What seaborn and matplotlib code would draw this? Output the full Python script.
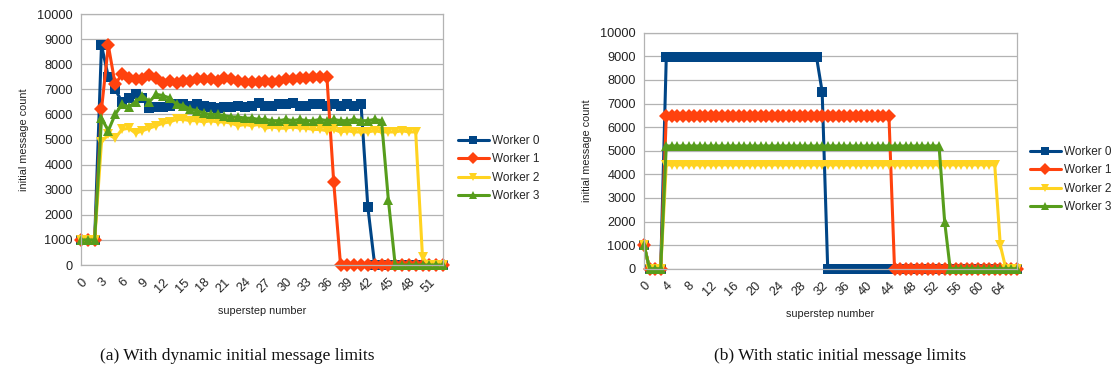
import numpy as np
import pandas as pd
import matplotlib
matplotlib.use("Agg")
import matplotlib.pyplot as plt
import seaborn as sns

# ---------------- data ----------------
workers = ["Worker 0", "Worker 1", "Worker 2", "Worker 3"]
colors = ["#004586", "#ff420e", "#ffd320", "#579d1c"]
marker_styles = ["s", "D", "v", "^"]

# (a) dynamic initial message limits, supersteps 0..53
dyn_steps = list(range(0, 54))
dyn_w0 = [1000, 1000, 1000, 8750, 7500, 7000, 6500, 6650, 6800, 6650,
          6250, 6300, 6300, 6350, 6400, 6400, 6350, 6400, 6350, 6300,
          6250, 6300, 6300, 6350, 6300, 6350, 6450, 6350, 6350, 6400,
          6400, 6450, 6350, 6350, 6400, 6400, 6350, 6400, 6350, 6400,
          6350, 6400, 2300, 0, 0, 0, 0, 0, 0, 0,
          0, 0, 0, 0]
dyn_w1 = [1000, 1000, 1000, 6200, 8750, 7200, 7600, 7450, 7400, 7400,
          7550, 7450, 7250, 7350, 7250, 7350, 7350, 7400, 7400, 7400,
          7350, 7450, 7400, 7350, 7300, 7300, 7300, 7350, 7300, 7350,
          7400, 7400, 7450, 7450, 7500, 7500, 7500, 3300, 0, 0,
          0, 0, 0, 0, 0, 0, 0, 0, 0, 0,
          0, 0, 0, 0]
dyn_w2 = [1000, 1000, 1000, 4900, 5200, 5050, 5400, 5450, 5250, 5350,
          5450, 5550, 5650, 5700, 5800, 5800, 5750, 5750, 5700, 5750,
          5700, 5700, 5650, 5550, 5600, 5550, 5600, 5450, 5500, 5450,
          5450, 5500, 5450, 5450, 5400, 5400, 5350, 5400, 5300, 5350,
          5300, 5300, 5300, 5350, 5300, 5300, 5300, 5350, 5300, 5300,
          300, 0, 0, 0]
dyn_w3 = [1000, 1000, 1000, 5850, 5350, 6000, 6400, 6300, 6500, 6750,
          6500, 6800, 6750, 6650, 6400, 6350, 6200, 6150, 6050, 6000,
          6000, 5950, 5900, 5900, 5850, 5850, 5800, 5800, 5750, 5750,
          5800, 5750, 5800, 5750, 5750, 5800, 5750, 5800, 5750, 5750,
          5800, 5750, 5750, 5800, 5750, 2600, 0, 0, 0, 0,
          0, 0, 0, 0]

# (b) static initial message limits, supersteps 0..67
sta_steps = list(range(0, 68))
sta_w0 = [1000, 0, 0, 0, 8950, 8950, 8950, 8950, 8950, 8950,
          8950, 8950, 8950, 8950, 8950, 8950, 8950, 8950, 8950, 8950,
          8950, 8950, 8950, 8950, 8950, 8950, 8950, 8950, 8950, 8950,
          8950, 8950, 7500, 0, 0, 0, 0, 0, 0, 0,
          0, 0, 0, 0, 0, 0, 0, 0, 0, 0,
          0, 0, 0, 0, 0, 0, 0, 0, 0, 0,
          0, 0, 0, 0, 0, 0, 0, 0]
sta_w1 = [1000, 0, 0, 0, 6450, 6450, 6450, 6450, 6450, 6450,
          6450, 6450, 6450, 6450, 6450, 6450, 6450, 6450, 6450, 6450,
          6450, 6450, 6450, 6450, 6450, 6450, 6450, 6450, 6450, 6450,
          6450, 6450, 6450, 6450, 6450, 6450, 6450, 6450, 6450, 6450,
          6450, 6450, 6450, 6450, 6450, 0, 0, 0, 0, 0,
          0, 0, 0, 0, 0, 0, 0, 0, 0, 0,
          0, 0, 0, 0, 0, 0, 0, 0]
sta_w2 = [1000, 0, 0, 0, 4400, 4400, 4400, 4400, 4400, 4400,
          4400, 4400, 4400, 4400, 4400, 4400, 4400, 4400, 4400, 4400,
          4400, 4400, 4400, 4400, 4400, 4400, 4400, 4400, 4400, 4400,
          4400, 4400, 4400, 4400, 4400, 4400, 4400, 4400, 4400, 4400,
          4400, 4400, 4400, 4400, 4400, 4400, 4400, 4400, 4400, 4400,
          4400, 4400, 4400, 4400, 4400, 4400, 4400, 4400, 4400, 4400,
          4400, 4400, 4400, 4400, 1000, 0, 0, 0]
sta_w3 = [1000, 0, 0, 0, 5200, 5200, 5200, 5200, 5200, 5200,
          5200, 5200, 5200, 5200, 5200, 5200, 5200, 5200, 5200, 5200,
          5200, 5200, 5200, 5200, 5200, 5200, 5200, 5200, 5200, 5200,
          5200, 5200, 5200, 5200, 5200, 5200, 5200, 5200, 5200, 5200,
          5200, 5200, 5200, 5200, 5200, 5200, 5200, 5200, 5200, 5200,
          5200, 5200, 5200, 5200, 2000, 0, 0, 0, 0, 0,
          0, 0, 0, 0, 0, 0, 0, 0]

y_ticks = list(range(0, 10001, 1000))
x_label = "superstep number"
y_label = "initial message count"
caption_a = "(a) With dynamic initial message limits"
caption_b = "(b) With static initial message limits"

# ---------------- style ----------------
sns.set_theme(style="white")
plt.rcParams["font.family"] = ["Liberation Sans", "DejaVu Sans"]

GRID = "#b3b3b3"
TXT = "#222222"

fig = plt.figure(figsize=(11.15, 3.72), dpi=100)
ax_a = fig.add_axes([81 / 1115, 1 - 265 / 372, (443 - 81) / 1115, (265 - 14) / 372])
ax_b = fig.add_axes([644 / 1115, 1 - 268.7 / 372, (1017 - 644) / 1115, (268.7 - 32.7) / 372])


def draw(ax, steps, series, label_every, xmax):
    for name, vals, c, m in zip(workers, series, colors, marker_styles):
        df = pd.DataFrame({"step": steps, "count": vals})
        sns.lineplot(data=df, x="step", y="count", ax=ax, color=c, marker=m,
                     markersize=7.2, linewidth=2.2, markeredgewidth=0,
                     label=name, legend=False)
    ax.set_xlim(0, xmax)
    ax.set_ylim(0, 10000)
    ax.set_yticks(y_ticks)
    ax.set_yticklabels([str(v) for v in y_ticks], fontsize=9.2, color=TXT)
    ax.set_xticks(steps)
    ax.set_xticklabels([str(s) if s % label_every == 0 else "" for s in steps],
                       rotation=45, ha="right", rotation_mode="anchor",
                       fontsize=9.2, color=TXT)
    ax.tick_params(axis="both", which="both", length=4, width=0.8,
                   color=GRID, direction="out", pad=2)
    ax.tick_params(axis="x", pad=4)
    ax.grid(axis="y", color=GRID, linewidth=0.9)
    ax.set_axisbelow(True)
    for sp in ax.spines.values():
        sp.set_color(GRID)
        sp.set_linewidth(0.9)
    ax.set_xlabel(x_label, fontsize=7.8, color=TXT, labelpad=8)
    ax.set_ylabel(y_label, fontsize=7.8, color=TXT, labelpad=6)
    for ln in ax.get_lines():
        ln.set_clip_on(False)


draw(ax_a, dyn_steps, [dyn_w0, dyn_w1, dyn_w2, dyn_w3], 3, 53)
draw(ax_b, sta_steps, [sta_w0, sta_w1, sta_w2, sta_w3], 4, 67)

for ax, anchor in ((ax_a, (458 / 1115, 1 - 135 / 372)), (ax_b, (1030 / 1115, 1 - 146 / 372))):
    h, l = ax.get_legend_handles_labels()
    ax.legend(h, l, loc="upper left", bbox_to_anchor=anchor,
              bbox_transform=fig.transFigure, frameon=False, fontsize=8.5,
              handlelength=2.6, handletextpad=0.3, labelspacing=0.55,
              borderaxespad=0, borderpad=0, markerscale=0.8)

fig.text(237 / 1115, 1 - 356 / 372, caption_a, ha="center", va="center",
         fontsize=12.5, family=["Liberation Serif", "DejaVu Serif"], color="#111111")
fig.text(840 / 1115, 1 - 356 / 372, caption_b, ha="center", va="center",
         fontsize=12.5, family=["Liberation Serif", "DejaVu Serif"], color="#111111")

fig.savefig("out.png", dpi=100)
